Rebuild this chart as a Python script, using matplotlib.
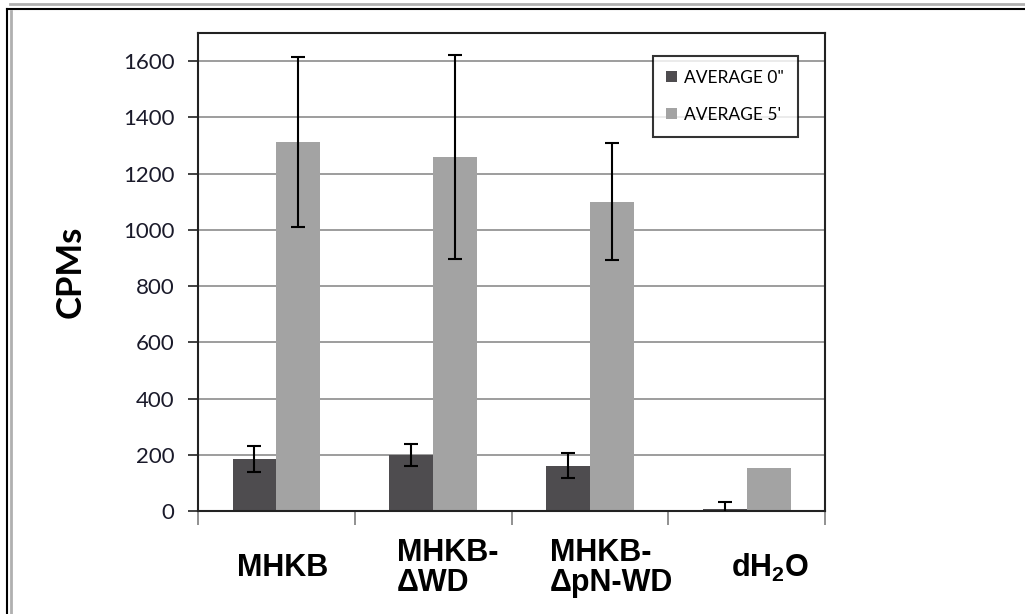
import numpy as np
import matplotlib.pyplot as plt
from matplotlib.lines import Line2D
from matplotlib.ticker import FixedLocator, NullFormatter

# --- data ---
categories = ['MHKB', 'MHKB-\nΔWD', 'MHKB-\nΔpN-WD', r'dH$_\mathbf{2}$O']
avg_0 = [185, 199, 161, 8]
err_0 = [47, 38, 45, 23]
avg_5 = [1313, 1260, 1100, 154]
err_5 = [303, 363, 208, 0]
series_names = ['AVERAGE 0"', "AVERAGE 5'"]
y_ticks = [0, 200, 400, 600, 800, 1000, 1200, 1400, 1600]

plt.rcParams['mathtext.fontset'] = 'custom'
plt.rcParams['mathtext.bf'] = 'Liberation Sans:bold'
plt.rcParams['mathtext.rm'] = 'Liberation Sans:bold'

fig = plt.figure(figsize=(10.25, 6.14), dpi=100)
ax = fig.add_axes([0.1932, 0.1678, 0.6117, 0.7785])

x = np.arange(len(categories))
w = 0.28
dark = '#4e4c4f'
light = '#a3a3a3'

ax.bar(x - w / 2, avg_0, w, color=dark, label=series_names[0], zorder=2)
ax.bar(x + w / 2, avg_5, w, color=light, label=series_names[1], zorder=2)
ax.errorbar(x - w / 2, avg_0, yerr=err_0, fmt='none', ecolor='black',
            elinewidth=1.5, capsize=5, capthick=1.5, zorder=3)
has_err = [i for i, e in enumerate(err_5) if e > 0]
ax.errorbar(x[has_err] + w / 2, [avg_5[i] for i in has_err],
            yerr=[err_5[i] for i in has_err], fmt='none', ecolor='black',
            elinewidth=1.5, capsize=5, capthick=1.5, zorder=3)

ax.set_xlim(-0.5, len(categories) - 0.5)
ax.set_ylim(0, 1700)
ax.set_yticks(y_ticks)
ax.yaxis.grid(True, color='#8c8c8c', linewidth=1.2, zorder=0)
ax.set_axisbelow(True)

for s in ax.spines.values():
    s.set_color('#222222')
    s.set_linewidth(1.5)

ax.tick_params(axis='y', direction='out', length=7, width=1.3, color='#333333',
               labelsize=16, pad=10)
for lbl in ax.get_yticklabels():
    lbl.set_fontfamily('Lato')
    lbl.set_color('#1a1a2a')

# category boundaries as tick marks, labels placed as text
ax.xaxis.set_major_locator(FixedLocator([]))
ax.xaxis.set_minor_locator(FixedLocator(np.arange(-0.5, len(categories), 1.0)))
ax.xaxis.set_minor_formatter(NullFormatter())
ax.tick_params(axis='x', which='minor', direction='out', length=10, width=1.3,
               color='#888888')

# the labels sit a little right of the category centres in the original
label_shift = [0.04, 0.09, 0.14, 0.15]
for i, lab in enumerate(categories):
    ax.text(i + label_shift[i], -0.12, lab, transform=ax.get_xaxis_transform(),
            ha='center', va='center', multialignment='left',
            fontsize=22, fontweight='bold', family='Liberation Sans',
            linespacing=1.0)

ax.set_ylabel('CPMs', fontsize=25, fontweight='bold', family='Lato', labelpad=26)

leg = ax.legend(loc='upper right', bbox_to_anchor=(0.97, 0.97),
                frameon=True, fancybox=False, edgecolor='black',
                handlelength=0.6, handleheight=0.6, handletextpad=0.4,
                labelspacing=1.2, borderpad=0.8, prop={'family': 'Lato', 'size': 12.5})
leg.get_frame().set_linewidth(1.5)

# outer frame of the original picture
fig.add_artist(Line2D([10 / 1025, 1], [1 - 4 / 614, 1 - 4 / 614], color='#b0b0b0', lw=2))
fig.add_artist(Line2D([7 / 1025, 1], [1 - 9 / 614, 1 - 9 / 614], color='black', lw=1.5))
fig.add_artist(Line2D([7 / 1025, 7 / 1025], [0, 1 - 9 / 614], color='black', lw=1.5))
fig.add_artist(Line2D([11 / 1025, 11 / 1025], [0, 1 - 11 / 614], color='#b0b0b0', lw=2))

fig.savefig('out.png', dpi=100)
